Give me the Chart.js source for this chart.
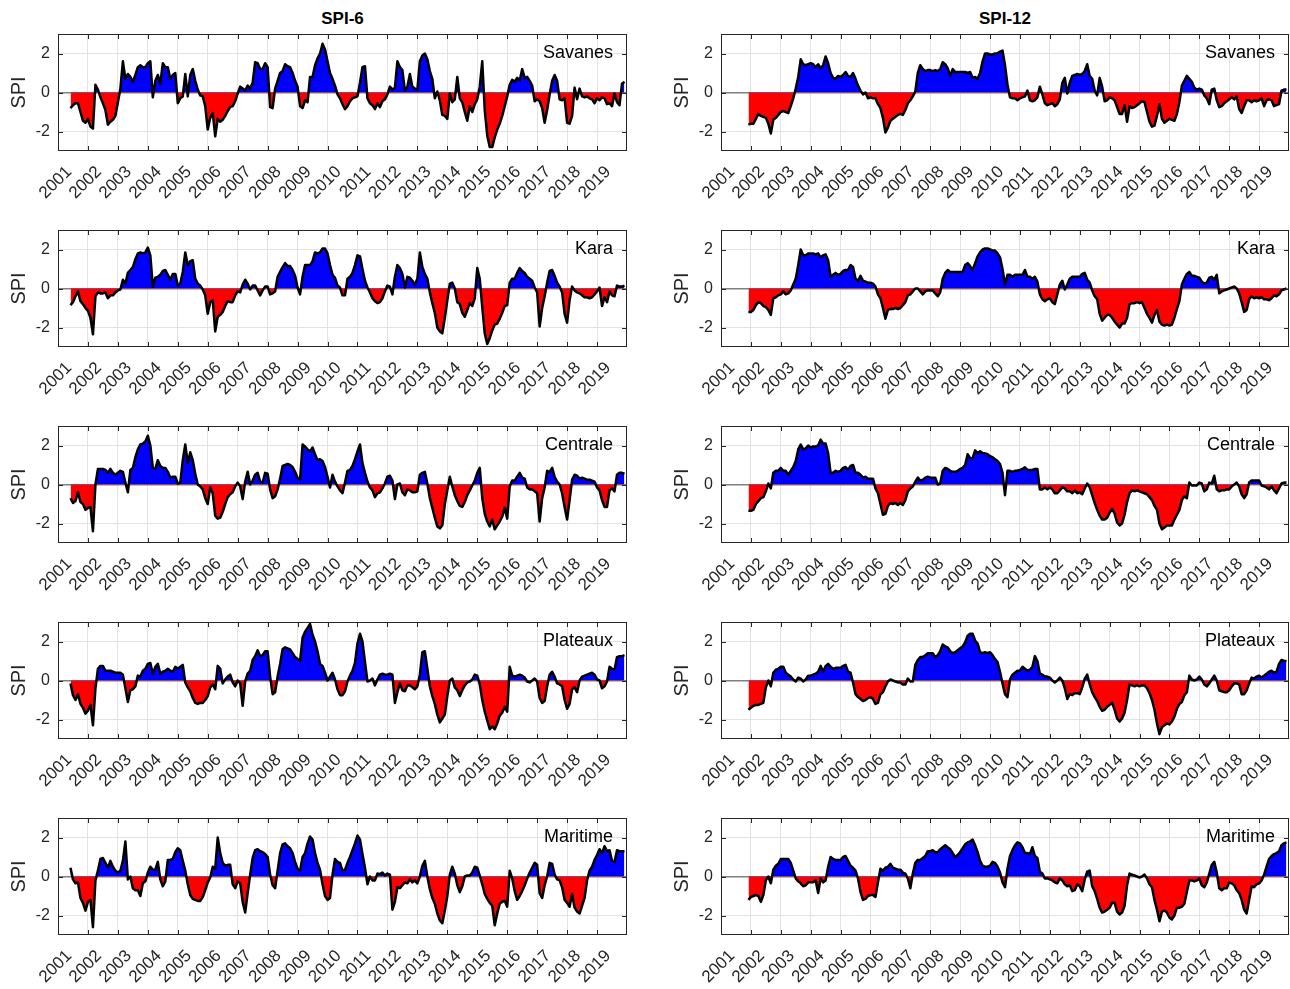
<!DOCTYPE html>
<html>
<head>
<meta charset="utf-8">
<script src="https://cdn.jsdelivr.net/npm/chart.js@4.4.1/dist/chart.umd.min.js"></script>
<style>
  body { margin: 0; background: #fff; width: 1290px; height: 989px; position: relative; overflow: hidden;
         font-family: "Liberation Sans", Arial, sans-serif; }
  .title { position: absolute; top: 9px; font-weight: bold; font-size: 17px; line-height: 20px; text-align: center; color: #000; }
  canvas { position: absolute; }
</style>
</head>
<body>
<div class="title" style="left:58px;width:569px">SPI-6</div>
<div class="title" style="left:721px;width:568px">SPI-12</div>
<script>
// ---- data (monthly values) ----
const regions = ['Savanes', 'Kara', 'Centrale', 'Plateaux', 'Maritime'];
const yearLabels = [2001, 2002, 2003, 2004, 2005, 2006, 2007, 2008, 2009, 2010,
                    2011, 2012, 2013, 2014, 2015, 2016, 2017, 2018, 2019];
const spiTicks = [-2, 0, 2];
const spi6Start = 2001 + 5 / 12;   // June 2001
const spi12Start = 2001 + 11 / 12; // December 2001

// SPI-6, Jun 2001 .. Dec 2019
const savanes6 = [
  -0.8, -0.65, -0.55, -0.55, -1.0, -1.45, -1.55,
  -1.35, -1.75, -1.85, 0.4, 0.15, -0.25, -0.55, -0.9, -1.65, -1.5, -1.4, -1.2,
  -0.5, 0.2, 1.6, 0.7, 0.95, 0.8, 0.55, 0.9, 1.3, 1.4, 1.3, 1.3,
  1.5, 1.6, -0.25, 0.6, 0.9, 0.45, 1.5, 1.3, 1.3, 0.7, 0.9, 1.0,
  -0.55, -0.3, -0.2, 0.95, -0.2, 0.9, 1.2, 0.6, 0.15, -0.15, -0.2, -0.7,
  -1.9, -1.3, -1.05, -2.25, -1.35, -1.5, -1.4, -1.2, -0.95, -0.75, -0.7, -0.45,
  -0.05, 0.3, 0.2, 0.1, 0.35, 0.2, 0.5, 1.55, 1.5, 1.2, 1.2, 1.5,
  1.3, -0.75, -0.8, 0.2, 0.6, 1.0, 1.1, 1.45, 1.35, 1.3, 1.0, 0.6,
  0.3, -0.7, -0.8, -0.4, -0.5, 0.8, 0.8, 1.4, 1.75, 2.0, 2.5, 2.2,
  1.6, 1.0, 0.7, 0.35, -0.1, -0.3, -0.6, -0.85, -0.7, -0.45, -0.3, -0.25,
  -0.2, 0.5, 1.3, 1.35, -0.3, -0.55, -0.65, -0.85, -0.55, -0.75, -0.45, -0.35,
  -0.1, 0.3, 0.15, 0.25, 1.6, 1.3, 1.15, 0.1, 0.3, 0.95, 0.3, 0.2,
  0.15, 1.6, 1.9, 2.0, 1.7, 1.1, 0.7, -0.3, 0.05, -0.4, -1.15, -1.2,
  -1.35, -0.05, -0.5, -0.35, 0.8, -0.3, -0.5, -1.0, -1.45, -0.7, -1.0, -0.6,
  -0.35, 0.3, 1.6, -0.9, -2.2, -2.8, -2.8, -2.3, -1.9, -1.6, -1.2, -0.7,
  -0.2, 0.4, 0.65, 0.55, 0.75, 0.6, 1.2, 0.75, 0.8, 0.6, 0.35, -0.45,
  -0.35, -0.45, -0.8, -1.55, -0.9, -0.1, 0.6, 0.9, 0.6, -0.35, -0.4, -0.3,
  -1.55, -1.6, -1.2, 0.25, -0.35, 0.2, -0.2, -0.25, -0.2, -0.3, -0.35, -0.55,
  -0.3, -0.4, -0.25, -0.3, -0.6, -0.55, -0.7, -0.05, -0.5, -0.65, 0.45, 0.55
];
const kara6 = [
  -0.85, -0.7, -0.4, -0.15, -0.65, -0.8, -1.0,
  -1.15, -1.5, -2.35, -0.4, -0.2, -0.25, -0.25, -0.2, -0.5, -0.35, -0.35, -0.2,
  -0.1, -0.05, 0.45, 0.25, 0.8, 0.95, 1.1, 1.5, 1.8, 1.85, 1.8, 1.85,
  2.1, 1.7, 0.1, 0.55, 0.6, 0.7, 0.9, 0.95, 0.7, 0.45, 0.75, 0.75,
  0.15, 0.25, 0.85, 1.85, 1.2, 1.4, 1.45, 0.5, 0.25, 0.15, -0.05, -0.35,
  -1.3, -0.7, -0.6, -2.2, -1.45, -1.35, -1.2, -0.9, -0.65, -0.7, -0.7, -0.35,
  -0.15, -0.2, 0.2, 0.45, 0.25, -0.05, 0.15, 0.15, -0.1, -0.35, -0.1, 0.1,
  0.1, -0.3, -0.25, -0.15, 0.6, 0.85, 1.1, 1.3, 1.15, 1.15, 0.95, 0.65,
  0.05, -0.3, 0.6, 1.2, 1.2, 1.2, 1.4, 1.85, 1.8, 1.85, 2.05, 2.05,
  1.8, 1.2, 0.7, 0.55, 0.15, 0.05, -0.35, -0.35, 0.5, 0.6, 0.8, 1.2,
  1.7, 1.65, 1.0, 0.4, 0.05, -0.2, -0.5, -0.65, -0.75, -0.7, -0.5, -0.15,
  0.15, 0.1, -0.3, 0.6, 1.2, 1.05, 0.75, 0.05, 0.6, 0.55, 0.4, 0.2,
  0.5, 1.85, 1.1, 0.75, 0.5, -0.2, -0.75, -1.25, -2.0, -2.2, -2.3, -1.5,
  -0.6, 0.25, 0.3, 0.0, -0.7, -0.8, -1.25, -1.45, -1.1, -0.75, -0.9, -0.5,
  1.05, 0.5, -0.95, -2.3, -2.85, -2.55, -2.15, -1.85, -1.8, -1.55, -1.25, -0.9,
  -0.85, 0.3, 0.5, 0.5, 0.8, 1.05, 0.9, 0.8, 0.6, 0.5, 0.4, 0.05,
  -0.2, -1.95, -1.0, -0.4, 0.3, 0.9, 0.95, 0.65, 0.3, 0.1, -0.2, -1.3,
  -1.75, -0.6, 0.1, -0.1, -0.2, -0.25, -0.35, -0.45, -0.45, -0.5, -0.45, -0.3,
  -0.15, 0.05, -0.9, -0.45, -0.7, -0.15, -0.35, -0.4, 0.15, 0.1, 0.1, 0.15
];
const centrale6 = [
  -0.7, -0.95, -0.85, -0.4, -0.9, -1.0, -1.3,
  -1.2, -1.15, -2.4, 0.0, 0.8, 0.8, 0.8, 0.75, 0.6, 0.8, 0.6, 0.5,
  0.6, 0.7, 0.65, 0.1, -0.4, 0.75, 0.85, 1.4, 1.8, 2.05, 2.1, 2.2,
  2.5, 2.0, 0.85, 0.8, 1.25, 0.95, 0.85, 0.85, 0.65, 0.35, 0.4, 0.4,
  0.05, 0.1, 1.25, 2.05, 1.1, 1.65, 1.25, 0.55, 0.0, -0.1, -0.25, -0.7,
  -1.0, -0.15, -0.45, -1.6, -1.75, -1.7, -1.4, -1.0, -0.65, -0.5, -0.4, -0.1,
  0.1, -0.1, -0.75, 0.15, 0.65, 0.0, 0.2, 0.5, 0.6, 0.15, 0.1, 0.6,
  0.55, -0.25, -0.7, -0.6, -0.25, 0.3, 0.95, 1.0, 1.05, 1.0, 0.9, 0.65,
  0.35, 0.25, 2.05, 1.95, 1.8, 1.7, 1.9, 1.55, 1.25, 1.3, 1.2, 0.9,
  0.4, -0.15, 0.5, 0.15, -0.1, -0.3, -0.45, 0.1, 0.7, 0.75, 0.95, 1.3,
  1.7, 2.05, 1.1, 0.6, 0.15, -0.15, -0.3, -0.65, -0.45, -0.4, -0.2, 0.05,
  0.4, 0.45, 0.2, -0.75, 0.0, 0.05, -0.4, -0.55, -0.25, -0.3, -0.4, -0.4,
  -0.35, 0.5, 0.6, 0.65, 0.05, -0.7, -1.2, -1.7, -2.15, -2.25, -2.1, -1.0,
  -0.3, 0.4, -0.1, -0.55, -0.85, -1.1, -1.15, -0.9, -0.55, -0.3, -0.05, 0.2,
  0.6, 0.85, -0.7, -1.5, -1.9, -2.15, -1.8, -2.3, -2.1, -1.9, -1.65, -1.2,
  -1.75, -0.1, 0.2, 0.2, 0.4, 0.6, 0.35, 0.3, -0.15, -0.25, -0.25, -0.35,
  -0.45, -1.9, -0.7, -0.15, 0.7, 0.65, 0.85, 0.4, 0.15, 0.0, -0.45, -1.15,
  -1.8, -0.8, 0.25, 0.5, 0.45, 0.3, 0.35, 0.3, 0.25, 0.25, 0.2, 0.15,
  -0.15, -0.3, -0.8, -1.15, -1.15, -0.3, -0.2, -0.35, 0.5, 0.6, 0.6, 0.55
];
const plateaux6 = [
  -0.15, -0.75, -1.0, -0.7, -1.2, -1.4, -1.7,
  -1.55, -1.25, -2.3, -0.4, 0.6, 0.75, 0.75, 0.5, 0.5, 0.5, 0.45, 0.4,
  0.4, 0.4, 0.3, -0.4, -1.1, -0.5, -0.45, -0.3, 0.25, 0.2, 0.5, 0.6,
  0.85, 0.9, 0.35, 0.7, 0.85, 0.35, 0.45, 0.5, 0.6, 0.5, 0.45, 0.7,
  0.6, 0.7, 0.8, -0.1, -0.35, -0.55, -0.9, -1.15, -1.2, -1.15, -1.15, -1.0,
  -0.8, -0.35, -0.2, -0.45, 0.75, 0.6, -0.15, 0.05, 0.2, 0.3, -0.1, -0.3,
  0.0, -0.15, -1.3, -0.05, 0.35, 0.5, 1.05, 1.25, 1.55, 1.25, 1.3, 1.5,
  1.5, 0.2, -0.7, -0.6, 0.2, 0.85, 1.6, 1.7, 1.65, 1.6, 1.4, 1.2,
  1.1, 1.0, 2.2, 2.5, 2.7, 2.9, 2.35, 2.0, 1.5, 0.85, 0.75, 0.4,
  0.0, 0.2, 0.4, 0.05, -0.45, -0.75, -0.75, -0.55, -0.05, 0.25, 0.5, 0.9,
  1.9, 2.4, 2.0, 0.95, -0.05, 0.0, 0.1, -0.25, 0.05, 0.3, 0.35, 0.3,
  0.3, 0.35, 0.3, -1.15, -0.6, -0.15, -0.5, -0.55, -0.25, -0.25, -0.35, -0.45,
  -0.3, 0.3, 1.45, 1.5, 0.6, -0.3, -0.8, -1.2, -1.75, -2.15, -1.95, -1.75,
  -0.8, 0.0, 0.1, -0.35, -0.5, -0.8, -0.5, -0.25, -0.1, -0.05, 0.05, 0.3,
  0.25, -0.2, -1.0, -1.6, -2.05, -2.5, -2.35, -2.5, -2.2, -1.8, -1.65, -1.35,
  -1.6, 0.7, 0.25, 0.2, 0.25, 0.3, 0.25, 0.15, -0.05, -0.1, 0.0, 0.1,
  -0.05, -0.9, -1.15, -1.05, -0.3, 0.3, 0.45, 0.2, -0.15, -0.2, -0.3, -1.0,
  -1.45, -1.2, -0.45, -0.35, -0.6, 0.0, 0.2, 0.25, 0.3, 0.35, 0.4, 0.3,
  0.05, 0.0, -0.4, -0.3, -0.05, 0.7, 0.6, 0.55, 1.2, 1.25, 1.25, 1.3
];
const maritime6 = [
  0.45, -0.15, -0.35, -0.3, -1.1, -1.35, -1.75,
  -1.3, -1.2, -2.6, -0.2, 0.3, 0.9, 0.95, 0.7, 0.45, 0.8, 0.5, 0.3,
  0.2, 0.3, 0.8, 1.8, -0.15, 0.0, -0.6, -0.7, -0.7, -1.0, -0.35, -0.25,
  0.2, 0.5, 0.35, 0.35, 0.75, -0.15, -0.5, -0.25, 0.85, 0.85, 0.9, 1.25,
  1.45, 1.35, 0.8, 0.3, -0.4, -0.95, -1.15, -1.2, -1.25, -1.25, -1.05, -0.7,
  -0.3, -0.05, 0.5, 0.4, 2.0, 1.2, 0.7, 0.55, 0.6, 0.6, -0.4, -0.6,
  -0.25, -0.35, -1.3, -1.85, -0.85, 0.1, 0.95, 1.35, 1.4, 1.3, 1.25, 1.15,
  1.0, 0.1, -0.45, -0.6, 0.3, 1.2, 1.65, 1.7, 1.55, 1.45, 1.2, 0.75,
  0.4, 0.3, 1.0, 1.2, 1.7, 2.05, 1.9, 1.2, 0.7, 0.35, -0.4, -1.0,
  -1.2, -1.1, 0.1, 0.9, 0.75, 0.7, 0.3, 0.35, 0.7, 1.0, 1.35, 1.7,
  2.1, 1.9, 1.15, 0.45, -0.4, 0.0, -0.2, -0.2, 0.15, 0.12, 0.2, 0.05,
  0.15, 0.1, -1.7, -1.3, -0.55, -0.6, -0.45, -0.3, -0.35, -0.15, -0.3, -0.2,
  -0.35, 0.0, 0.55, 0.8, 0.0, -0.65, -1.1, -1.4, -1.9, -2.25, -2.4, -1.75,
  -1.0, 0.1, 0.5, 0.15, -0.45, -0.8, -0.5, 0.0, 0.05, 0.05, 0.2, 0.5,
  0.45, 0.05, -0.4, -0.9, -1.15, -1.35, -1.5, -2.5, -1.9, -1.4, -1.3, -1.25,
  -1.55, 0.3, -0.1, -0.75, -1.2, -1.0, -0.75, -0.45, -0.1, 0.2, 0.45, 0.7,
  0.6, -0.85, -1.1, -0.45, 0.0, 0.7, 0.65, 0.1, -0.15, -0.2, -0.55, -1.2,
  -1.35, -1.55, -0.9, -1.6, -1.8, -1.9, -1.5, -1.1, -0.2, 0.3, 0.5, 0.85,
  1.1, 1.4, 1.2, 1.55, 1.3, 1.35, 0.8, 0.75, 1.35, 1.3, 1.3, 1.3
];

// SPI-12, Dec 2001 .. Dec 2019
const savanes12 = [
  -1.65,
  -1.6, -1.6, -1.35, -1.1, -1.2, -1.25, -1.3, -1.6, -2.1, -1.4, -1.3, -1.15,
  -1.0, -0.95, -1.0, -1.05, -0.7, -0.3, 0.2, 0.8, 1.7, 1.45, 1.4, 1.45,
  1.5, 1.45, 1.3, 1.45, 1.25, 1.4, 1.85, 1.5, 1.0, 0.75, 0.7, 0.85,
  0.8, 0.9, 1.05, 0.85, 0.8, 1.0, 0.7, 0.35, 0.1, -0.1, 0.0, -0.3,
  -0.25, -0.3, -0.3, -0.6, -0.8, -1.3, -2.05, -1.8, -1.45, -1.35, -1.25, -1.15,
  -1.1, -1.15, -0.9, -0.55, -0.4, -0.2, 0.05, 1.0, 1.4, 1.2, 1.1, 1.15,
  1.15, 1.1, 1.15, 1.1, 1.2, 1.55, 1.45, 1.25, 0.85, 1.2, 1.05, 1.05,
  1.05, 1.05, 1.05, 1.0, 1.05, 0.75, 0.8, 0.7, 1.0, 1.6, 2.0, 2.0,
  1.95, 1.95, 2.0, 2.0, 2.1, 2.15, 1.4, 0.4, -0.25, -0.3, -0.3, -0.4,
  -0.3, -0.25, -0.2, 0.1, -0.4, -0.45, -0.4, -0.25, 0.3, -0.1, -0.55, -0.65,
  -0.6, -0.55, -0.7, -0.6, -0.35, 0.5, 0.75, -0.05, 0.5, 0.85, 0.9, 0.95,
  0.9, 0.95, 1.1, 1.45, 0.85, 0.7, 0.1, -0.15, 0.75, 0.3, -0.45, -0.4,
  -0.25, -0.3, -0.4, -0.75, -1.1, -1.1, -0.65, -1.5, -0.7, -0.8, -0.75, -0.65,
  -0.55, -0.45, -0.5, -1.0, -1.5, -1.75, -1.7, -1.2, -0.6, -1.35, -1.55, -1.45,
  -1.35, -1.4, -1.45, -1.1, -0.5, 0.35, 0.6, 0.85, 0.7, 0.55, 0.25, 0.15,
  0.2, 0.15, -0.15, -0.3, -0.6, 0.15, 0.2, -0.4, -0.75, -0.7, -0.55, -0.45,
  -0.35, -0.25, -0.35, -0.2, -0.85, -1.05, -0.7, -0.4, -0.4, -0.5, -0.4, -0.45,
  -0.4, -0.3, -0.7, -0.4, -0.35, -0.4, -0.7, -0.65, -0.6, 0.1, 0.15, 0.15
];
const kara12 = [
  -1.2,
  -1.2, -1.1, -0.85, -0.7, -0.75, -0.9, -0.95, -1.1, -1.35, -0.5, -0.45, -0.35,
  -0.3, -0.15, -0.3, -0.25, -0.1, 0.2, 0.5, 1.2, 2.0, 1.7, 1.7, 1.8,
  1.8, 1.8, 1.75, 1.8, 1.6, 1.7, 1.75, 1.45, 0.6, 0.7, 0.8, 0.7,
  0.75, 0.9, 0.95, 0.95, 1.2, 1.1, 0.5, 0.4, 0.65, 0.4, 0.35, 0.3,
  0.3, 0.25, 0.1, -0.3, -0.5, -1.0, -1.55, -1.1, -1.05, -1.05, -1.0, -1.05,
  -1.0, -0.85, -0.7, -0.35, -0.3, -0.15, 0.0, 0.0, -0.15, -0.3, -0.15, -0.1,
  -0.1, -0.1, -0.25, -0.4, -0.2, 0.5, 0.8, 0.95, 0.85, 0.85, 0.85, 0.85,
  0.85, 0.85, 1.2, 1.3, 1.15, 0.95, 1.3, 1.65, 1.85, 2.0, 2.05, 2.05,
  2.0, 1.95, 1.95, 1.8, 1.6, 1.0, 0.2, 0.7, 0.7, 0.6, 0.7, 0.7,
  0.7, 0.7, 0.95, 0.6, 0.6, 0.5, 0.6, 0.35, -0.3, -0.55, -0.65, -0.55,
  -0.5, -0.7, -0.8, -0.3, 0.2, 0.4, -0.05, 0.2, 0.5, 0.6, 0.6, 0.6,
  0.6, 0.75, 0.8, 0.45, 0.3, -0.1, -0.4, -0.55, -1.3, -1.65, -1.5, -1.35,
  -1.35, -1.5, -1.7, -1.85, -2.0, -1.8, -1.8, -1.5, -0.8, -0.75, -0.75, -0.7,
  -0.75, -0.7, -1.0, -1.3, -1.5, -1.75, -1.35, -1.1, -1.7, -1.85, -1.9, -1.85,
  -1.9, -1.85, -1.5, -1.05, -0.65, 0.2, 0.5, 0.75, 0.85, 0.65, 0.65, 0.6,
  0.55, 0.35, 0.25, 0.3, 0.55, 0.6, 0.45, 0.7, -0.25, -0.15, -0.1, -0.05,
  0.0, 0.05, 0.1, 0.0, -0.25, -0.7, -1.2, -1.1, -0.55, -0.4, -0.5, -0.45,
  -0.5, -0.45, -0.55, -0.55, -0.6, -0.5, -0.35, -0.4, -0.3, -0.1, -0.05, 0.0
];
const centrale12 = [
  -1.35,
  -1.35, -1.3, -1.0, -0.85, -0.7, -0.65, -0.35, 0.05, -0.2, 0.6, 0.7, 0.7,
  0.85, 0.7, 0.7, 0.5, 0.7, 0.9, 1.2, 1.8, 2.05, 1.8, 1.85, 2.0,
  1.9, 1.95, 1.95, 2.0, 2.3, 2.1, 2.1, 1.6, 0.6, 0.6, 0.7, 0.65,
  0.7, 0.85, 0.9, 0.75, 0.95, 1.0, 0.6, 0.6, 0.5, 0.35, 0.4, 0.3,
  0.3, 0.3, -0.2, -0.45, -1.0, -1.55, -1.5, -1.1, -0.95, -1.0, -0.95, -1.05,
  -0.95, -1.05, -0.8, -0.35, -0.2, -0.1, 0.15, 0.35, 0.2, 0.25, 0.35, 0.4,
  0.35, 0.35, 0.35, 0.0, 0.05, 0.7, 0.85, 0.8, 0.7, 0.65, 0.65, 0.7,
  0.8, 0.85, 1.0, 1.55, 1.35, 1.35, 1.75, 1.6, 1.7, 1.6, 1.6, 1.55,
  1.45, 1.4, 1.3, 1.2, 1.05, 0.6, -0.55, 0.7, 0.7, 0.65, 0.7, 0.72,
  0.75, 0.8, 0.88, 0.75, 0.75, 0.75, 0.8, 0.8, -0.25, -0.25, -0.15, -0.25,
  -0.15, -0.25, -0.45, -0.45, -0.3, -0.15, -0.2, -0.35, -0.35, -0.45, -0.3, -0.45,
  -0.4, -0.5, -0.2, 0.05, -0.15, -0.55, -0.95, -1.3, -1.6, -1.8, -1.8, -1.7,
  -1.45, -1.25, -1.5, -1.95, -2.1, -2.0, -1.55, -0.9, -0.45, -0.3, -0.35, -0.3,
  -0.35, -0.4, -0.45, -0.5, -0.65, -0.8, -1.1, -1.3, -2.0, -2.3, -2.2, -2.1,
  -2.1, -2.1, -1.8, -1.55, -1.3, -0.8, -0.6, -0.7, 0.1, -0.05, -0.05, -0.05,
  0.1, 0.05, -0.35, -0.25, 0.1, 0.05, 0.45, -0.25, -0.35, -0.3, -0.3, -0.25,
  -0.25, -0.1, 0.0, 0.1, -0.1, -0.5, -0.7, -0.5, 0.1, 0.2, 0.2, 0.2,
  0.2, -0.05, -0.1, -0.15, -0.25, -0.1, -0.3, -0.45, -0.2, 0.05, 0.1, 0.1
];
const plateaux12 = [
  -1.5,
  -1.4, -1.3, -1.25, -1.25, -1.2, -1.15, -0.35, 0.0, -0.3, 0.4, 0.55, 0.6,
  0.7, 0.7, 0.4, 0.3, 0.2, 0.05, -0.05, 0.15, 0.1, -0.05, 0.05, 0.25,
  0.25, 0.3, 0.35, 0.45, 0.75, 0.45, 0.75, 0.85, 0.7, 0.6, 0.65, 0.65,
  0.65, 0.75, 0.8, 0.45, 0.4, -0.1, -0.7, -0.85, -0.95, -1.05, -1.0, -0.9,
  -0.85, -0.95, -1.2, -1.15, -0.7, -0.6, -0.3, -0.05, 0.05, 0.0, -0.05, -0.1,
  -0.1, -0.2, -0.2, 0.1, -0.05, -0.05, 0.8, 1.05, 1.2, 1.2, 1.3, 1.4,
  1.4, 1.4, 1.2, 1.3, 1.5, 1.85, 1.75, 1.7, 1.5, 1.4, 1.45, 1.55,
  1.65, 1.75, 1.95, 2.3, 2.4, 2.4, 2.05, 1.9, 1.45, 1.4, 1.45, 1.4,
  1.45, 1.3, 1.1, 0.95, 0.45, -0.15, -0.7, -0.85, 0.05, 0.3, 0.4, 0.5,
  0.5, 0.7, 0.6, 0.5, 0.55, 0.7, 1.25, 1.0, 0.35, 0.3, 0.2, 0.2,
  0.15, 0.0, -0.1, 0.0, 0.15, 0.0, -0.4, -0.95, -0.7, -0.75, -0.65, -0.65,
  -0.7, -0.35, 0.1, 0.3, -0.2, -0.6, -0.85, -1.05, -1.35, -1.55, -1.5, -1.35,
  -1.25, -1.15, -1.5, -1.95, -2.1, -1.95, -1.65, -1.0, -0.2, -0.25, -0.3, -0.25,
  -0.3, -0.25, -0.25, -0.4, -0.65, -1.0, -1.5, -2.2, -2.75, -2.4, -2.3, -2.2,
  -2.25, -2.1, -1.85, -1.45, -1.2, -1.1, -0.75, -0.6, 0.25, 0.05, 0.0, 0.05,
  0.2, 0.05, -0.2, -0.3, -0.15, 0.05, 0.25, 0.0, -0.5, -0.55, -0.6, -0.6,
  -0.5, -0.3, -0.15, -0.15, -0.2, -0.7, -0.7, -0.5, -0.15, 0.15, 0.1, 0.2,
  0.25, 0.15, 0.25, 0.35, 0.45, 0.5, 0.4, 0.45, 0.85, 1.05, 1.0, 1.0
];
const maritime12 = [
  -1.2,
  -1.05, -1.0, -0.95, -1.0, -1.3, -0.95, -0.2, 0.0, -0.35, 0.35, 0.55, 0.65,
  0.9, 0.9, 0.9, 0.9, 0.7, 0.3, -0.1, -0.25, -0.35, -0.5, -0.45, -0.3,
  -0.3, -0.3, -0.2, -0.85, -0.1, -0.3, -0.2, 0.5, 1.0, 0.9, 0.85, 0.85,
  0.85, 1.0, 1.05, 0.8, 0.55, 0.45, 0.3, -0.1, -0.8, -1.2, -1.15, -1.0,
  -0.95, -0.95, -1.05, -0.3, 0.4, 0.3, 0.45, 0.5, 0.65, 0.45, 0.4, 0.35,
  0.35, 0.2, 0.15, -0.1, -0.6, 0.15, 0.7, 0.85, 0.85, 0.95, 1.05, 1.3,
  1.3, 1.35, 1.25, 1.25, 1.4, 1.5, 1.6, 1.5, 1.4, 1.2, 1.0, 1.1,
  1.25, 1.45, 1.65, 1.75, 1.8, 1.9, 1.6, 1.25, 0.8, 0.55, 0.5, 0.5,
  0.55, 0.75, 0.7, 0.5, 0.2, -0.3, -0.55, 0.4, 1.05, 1.35, 1.6, 1.75,
  1.7, 1.5, 1.2, 1.2, 1.15, 1.5, 1.05, 0.95, 0.25, 0.15, -0.1, -0.1,
  -0.15, -0.2, -0.3, -0.35, -0.1, -0.2, -0.4, -0.5, -0.45, -0.75, -0.7, -0.4,
  -0.5, -0.75, -0.15, 0.25, 0.3, -0.5, -0.75, -1.15, -1.6, -1.85, -1.8, -1.7,
  -1.6, -1.35, -1.35, -1.8, -1.95, -1.85, -1.5, -0.45, 0.15, 0.1, 0.05, 0.0,
  -0.05, 0.0, 0.1, -0.1, -0.4, -0.55, -1.2, -1.7, -2.3, -1.8, -1.75, -1.85,
  -2.1, -2.2, -2.0, -1.6, -1.6, -1.55, -1.4, -0.8, -0.2, -0.2, -0.25, -0.2,
  -0.1, -0.45, -0.55, -0.3, 0.15, 0.6, 0.75, 0.2, -0.6, -0.7, -0.6, -0.6,
  -0.3, -0.35, -0.45, -0.7, -0.85, -1.2, -1.7, -1.9, -1.2, -0.5, -0.55, -0.4,
  -0.35, -0.2, 0.1, 0.5, 0.9, 1.05, 1.15, 1.2, 1.3, 1.6, 1.7, 1.75
];

const spi6 = [savanes6, kara6, centrale6, plateaux6, maritime6];
const spi12 = [savanes12, kara12, centrale12, plateaux12, maritime12];

// ---- drawing ----
Chart.defaults.font.family = '"Liberation Sans", Arial, Helvetica, sans-serif';
Chart.defaults.color = '#262626';

// box, inward tick marks and the region name, like the original axes
const panelFrame = {
  id: 'panelFrame',
  afterDatasetsDraw(chart, args, opts) {
    const { ctx, chartArea: a, scales: { x, y } } = chart;
    ctx.save();
    ctx.strokeStyle = '#262626';
    ctx.lineWidth = 1;
    ctx.strokeRect(a.left + 0.5, a.top + 0.5, a.width - 1, a.height - 1);
    ctx.beginPath();
    yearLabels.forEach(v => {
      const px = Math.round(x.getPixelForValue(v)) + 0.5;
      ctx.moveTo(px, a.top); ctx.lineTo(px, a.top + 5);
      ctx.moveTo(px, a.bottom); ctx.lineTo(px, a.bottom - 5);
    });
    spiTicks.forEach(v => {
      const py = Math.round(y.getPixelForValue(v)) + 0.5;
      ctx.moveTo(a.left, py); ctx.lineTo(a.left + 5, py);
      ctx.moveTo(a.right, py); ctx.lineTo(a.right - 5, py);
    });
    ctx.stroke();
    ctx.fillStyle = '#000';
    ctx.font = '18px "Liberation Sans", Arial, sans-serif';
    ctx.textAlign = 'right';
    ctx.textBaseline = 'middle';
    ctx.fillText(opts.label, a.right - 14, y.getPixelForValue(2));
    ctx.restore();
  }
};

function makePanel(col, row, values, start) {
  const cv = document.createElement('canvas');
  const left = col ? 650 : 0;
  const width = col ? 640 : 650;
  const height = 215;          // taller than the 196 px row so rotated labels are not cut
  cv.width = width; cv.height = height;
  cv.style.left = left + 'px';
  cv.style.top = (row * 196) + 'px';
  document.body.appendChild(cv);

  const pts = values.map((v, i) => ({ x: start + i / 12, y: v }));

  new Chart(cv, {
    type: 'line',
    data: {
      datasets: [{
        data: pts,
        borderColor: '#000',
        borderWidth: 2.5,
        borderJoinStyle: 'round',
        pointRadius: 0,
        tension: 0,
        fill: { target: { value: 0 }, above: '#0000ff', below: '#ff0000' }
      }]
    },
    options: {
      responsive: false,
      animation: false,
      layout: { padding: { left: col ? 13 : 0, right: col ? 1 : 23, top: 34, bottom: 0 } },
      plugins: {
        legend: { display: false },
        tooltip: { enabled: false },
        panelFrame: { label: regions[row] }
      },
      scales: {
        x: {
          type: 'linear',
          min: 2001,
          max: 2020,
          afterBuildTicks: s => { s.ticks = yearLabels.map(v => ({ value: v })); },
          afterFit: s => { s.height = height - 151; s.paddingLeft = 0; s.paddingRight = 0; },
          ticks: {
            autoSkip: false,
            minRotation: 45,
            maxRotation: 45,
            padding: 11,
            labelOffset: 11,
            font: { size: 17 },
            callback: v => String(v)
          },
          grid: { color: '#e3e3e3', lineWidth: 1, drawTicks: false },
          border: { display: false }
        },
        y: {
          min: -3,
          max: 3,
          afterBuildTicks: s => { s.ticks = spiTicks.map(v => ({ value: v })); },
          afterFit: s => { s.width = 58; s.paddingTop = 0; s.paddingBottom = 0; },
          ticks: { padding: 8, font: { size: 16 }, callback: v => String(v) },
          grid: {
            color: c => (c.tick && c.tick.value === 0) ? '#808080' : '#e3e3e3',
            lineWidth: c => (c.tick && c.tick.value === 0) ? 1.5 : 1,
            drawTicks: false
          },
          border: { display: false },
          title: { display: true, text: 'SPI', font: { size: 20 }, color: '#262626', padding: { top: 7, bottom: 0 } }
        }
      }
    },
    plugins: [panelFrame]
  });
}

regions.forEach((r, i) => {
  makePanel(0, i, spi6[i], spi6Start);
  makePanel(1, i, spi12[i], spi12Start);
});
</script>
</body>
</html>
